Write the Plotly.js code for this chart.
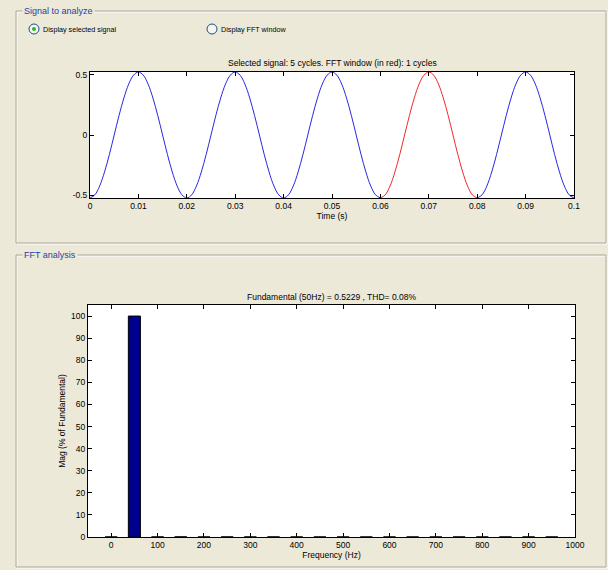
<!DOCTYPE html>
<html>
<head>
<meta charset="utf-8">
<script src="https://cdn.plot.ly/plotly-3.0.1.min.js"></script>
<style>
html,body{margin:0;padding:0;background:#ECE9D8;}
#chart{width:608px;height:570px;}
</style>
</head>
<body>
<div id="chart"></div>
<script>
// ---- Data ----
const timeS = [
 0.000,0.001,0.002,0.003,0.004,0.005,0.006,0.007,0.008,0.009,
 0.010,0.011,0.012,0.013,0.014,0.015,0.016,0.017,0.018,0.019,
 0.020,0.021,0.022,0.023,0.024,0.025,0.026,0.027,0.028,0.029,
 0.030,0.031,0.032,0.033,0.034,0.035,0.036,0.037,0.038,0.039,
 0.040,0.041,0.042,0.043,0.044,0.045,0.046,0.047,0.048,0.049,
 0.050,0.051,0.052,0.053,0.054,0.055,0.056,0.057,0.058,0.059,
 0.060,0.061,0.062,0.063,0.064,0.065,0.066,0.067,0.068,0.069,
 0.070,0.071,0.072,0.073,0.074,0.075,0.076,0.077,0.078,0.079,
 0.080,0.081,0.082,0.083,0.084,0.085,0.086,0.087,0.088,0.089,
 0.090,0.091,0.092,0.093,0.094,0.095,0.096,0.097,0.098,0.099,
 0.100
];
const signalV = [
 -0.523,-0.497,-0.423,-0.307,-0.162,0.000,0.162,0.307,0.423,0.497,
  0.523,0.497,0.423,0.307,0.162,0.000,-0.162,-0.307,-0.423,-0.497,
 -0.523,-0.497,-0.423,-0.307,-0.162,0.000,0.162,0.307,0.423,0.497,
  0.523,0.497,0.423,0.307,0.162,0.000,-0.162,-0.307,-0.423,-0.497,
 -0.523,-0.497,-0.423,-0.307,-0.162,0.000,0.162,0.307,0.423,0.497,
  0.523,0.497,0.423,0.307,0.162,0.000,-0.162,-0.307,-0.423,-0.497,
 -0.523,-0.497,-0.423,-0.307,-0.162,0.000,0.162,0.307,0.423,0.497,
  0.523,0.497,0.423,0.307,0.162,0.000,-0.162,-0.307,-0.423,-0.497,
 -0.523,-0.497,-0.423,-0.307,-0.162,0.000,0.162,0.307,0.423,0.497,
  0.523,0.497,0.423,0.307,0.162,0.000,-0.162,-0.307,-0.423,-0.497,
 -0.523
];
const fftWindowStart = 0.06;   // FFT window (red), s
const fftWindowEnd   = 0.08;

const freqHz = [0,50,100,150,200,250,300,350,400,450,500,550,600,650,700,750,800,850,900,950];
const magPct = [0.02,100,0.03,0.05,0.02,0.04,0.02,0.03,0.02,0.02,0.02,0.02,0.02,0.02,0.02,0.02,0.02,0.02,0.02,0.02];

const timeTicks = [0,0.01,0.02,0.03,0.04,0.05,0.06,0.07,0.08,0.09,0.1];
const timeTickText = ['0','0.01','0.02','0.03','0.04','0.05','0.06','0.07','0.08','0.09','0.1'];
const sigTicks = [-0.5,0,0.5];
const sigTickText = ['-0.5','0','0.5'];

const signalTitle = 'Selected signal: 5 cycles. FFT window (in red): 1 cycles';
const fftTitle = 'Fundamental (50Hz) = 0.5229 , THD= 0.08%';

// ---- split signal into outside / inside FFT window ----
const bT1=[],bV1=[],rT=[],rV=[],bT2=[],bV2=[];
timeS.forEach((t,i)=>{
  const v=signalV[i];
  if (t <= fftWindowStart+1e-9){bT1.push(t);bV1.push(v);}
  if (t >= fftWindowStart-1e-9 && t <= fftWindowEnd+1e-9){rT.push(t);rV.push(v);}
  if (t >= fftWindowEnd-1e-9){bT2.push(t);bV2.push(v);}
});

const W=608,H=570;
const px=x=>x/W, py=y=>1-y/H;
const FONT='Liberation Sans, Arial, sans-serif';
const BG='#ECE9D8';

const traces=[
 {x:bT1,y:bV1,type:'scatter',mode:'lines',line:{color:'#1010E0',width:0.9,shape:'spline'},xaxis:'x',yaxis:'y',hoverinfo:'skip'},
 {x:rT,y:rV,type:'scatter',mode:'lines',line:{color:'#F01010',width:0.9,shape:'spline'},xaxis:'x',yaxis:'y',hoverinfo:'skip'},
 {x:bT2,y:bV2,type:'scatter',mode:'lines',line:{color:'#1010E0',width:0.9,shape:'spline'},xaxis:'x',yaxis:'y',hoverinfo:'skip'},
 {x:freqHz,y:magPct,type:'bar',width:26,marker:{color:'#00008F',line:{color:'#000000',width:1}},xaxis:'x2',yaxis:'y2',hoverinfo:'skip'}
];

const axCommon={showgrid:false,zeroline:false,showline:true,linecolor:'#000',linewidth:1,
  mirror:'ticks',ticks:'inside',ticklen:4,tickcolor:'#000',tickfont:{family:FONT,size:8.5,color:'#000'},fixedrange:true};

function box(x0,y0,x1,y1){
  return [
   {type:'rect',xref:'paper',yref:'paper',x0:px(x0+1),y0:py(y0+1),x1:px(x1+1),y1:py(y1+1),line:{color:'#FFFFFF',width:1},layer:'below'},
   {type:'rect',xref:'paper',yref:'paper',x0:px(x0),y0:py(y0),x1:px(x1),y1:py(y1),line:{color:'#ACA899',width:1},layer:'below'}
  ];
}

const layout={
 width:W,height:H,margin:{l:0,r:0,t:0,b:0},
 paper_bgcolor:BG,plot_bgcolor:'#FFFFFF',showlegend:false,
 font:{family:FONT,size:8.5,color:'#000'},
 xaxis:Object.assign({},axCommon,{domain:[px(90),px(574)],range:[0,0.1],tickvals:timeTicks,ticktext:timeTickText,anchor:'y',
   title:{text:'Time (s)',font:{family:FONT,size:8.5,color:'#000'},standoff:2}}),
 yaxis:Object.assign({},axCommon,{domain:[py(198),py(72)],range:[-0.523,0.523],tickvals:sigTicks,ticktext:sigTickText,anchor:'x'}),
 xaxis2:Object.assign({},axCommon,{domain:[px(88),px(575)],range:[-50,1000],dtick:100,tick0:0,anchor:'y2',
   title:{text:'Frequency (Hz)',font:{family:FONT,size:8.5,color:'#000'},standoff:2}}),
 yaxis2:Object.assign({},axCommon,{domain:[py(537),py(305)],range:[0,105],dtick:10,tick0:0,anchor:'x2',
   title:{text:'Mag (% of Fundamental)',font:{family:FONT,size:8.5,color:'#000'},standoff:4}}),
 shapes:[].concat(
   box(16,11,606,243),
   box(16,255,606,567),
   [
    {type:'circle',xref:'paper',yref:'paper',x0:px(29),x1:px(39),y0:py(34),y1:py(24),line:{color:'#1C5180',width:1},fillcolor:'#F4F4F0'},
    {type:'circle',xref:'paper',yref:'paper',x0:px(32),x1:px(36),y0:py(31),y1:py(27),line:{color:'#21A121',width:0},fillcolor:'#31B131'},
    {type:'circle',xref:'paper',yref:'paper',x0:px(207),x1:px(217),y0:py(34),y1:py(24),line:{color:'#1C5180',width:1},fillcolor:'#F4F4F0'}
   ]),
 annotations:[
   {text:'Signal to analyze',xref:'paper',yref:'paper',x:px(22),y:py(11),xanchor:'left',yanchor:'middle',showarrow:false,
    font:{family:FONT,size:9,color:'#1F3FA8'},bgcolor:BG,borderpad:1},
   {text:'FFT analysis',xref:'paper',yref:'paper',x:px(22),y:py(255),xanchor:'left',yanchor:'middle',showarrow:false,
    font:{family:FONT,size:9,color:'#1F3FA8'},bgcolor:BG,borderpad:1},
   {text:'Display selected signal',xref:'paper',yref:'paper',x:px(41),y:py(29),xanchor:'left',yanchor:'middle',showarrow:false,
    font:{family:FONT,size:7.2,color:'#000'}},
   {text:'Display FFT window',xref:'paper',yref:'paper',x:px(219),y:py(29),xanchor:'left',yanchor:'middle',showarrow:false,
    font:{family:FONT,size:7.2,color:'#000'}},
   {text:signalTitle,xref:'paper',yref:'paper',x:px(332),y:py(63),xanchor:'center',yanchor:'middle',showarrow:false,
    font:{family:FONT,size:8.5,color:'#000'}},
   {text:fftTitle,xref:'paper',yref:'paper',x:px(331),y:py(297),xanchor:'center',yanchor:'middle',showarrow:false,
    font:{family:FONT,size:8.5,color:'#000'}}
 ]
};

Plotly.newPlot('chart',traces,layout,{staticPlot:true,displayModeBar:false});
</script>
</body>
</html>
